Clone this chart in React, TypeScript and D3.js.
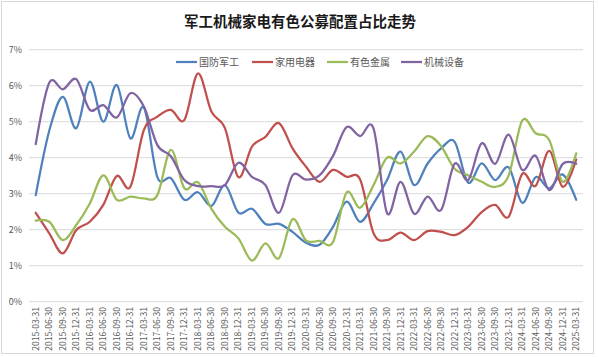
import React from "react";
import * as d3 from "d3";

const dates = [
  "2015-03-31","2015-06-30","2015-09-30","2015-12-31",
  "2016-03-31","2016-06-30","2016-09-30","2016-12-31",
  "2017-03-31","2017-06-30","2017-09-30","2017-12-31",
  "2018-03-31","2018-06-30","2018-09-30","2018-12-31",
  "2019-03-31","2019-06-30","2019-09-30","2019-12-31",
  "2020-03-31","2020-06-30","2020-09-30","2020-12-31",
  "2021-03-31","2021-06-30","2021-09-30","2021-12-31",
  "2022-03-31","2022-06-30","2022-09-30","2022-12-31",
  "2023-03-31","2023-06-30","2023-09-30","2023-12-31",
  "2024-03-31","2024-06-30","2024-09-30","2024-12-31",
  "2025-03-31",
];

const defense = [
  2.96, 4.75, 5.69, 4.82, 6.11, 5.0, 6.02, 4.54, 5.4, 3.46,
  3.43, 2.83, 3.04, 2.66, 3.24, 2.47, 2.58, 2.16, 2.16, 1.94,
  1.64, 1.58, 2.08, 2.78, 2.22, 2.73, 3.38, 4.17, 3.24, 3.84,
  4.26, 4.44, 3.31, 3.84, 3.38, 3.73, 2.75, 3.46, 3.15, 3.53,
  2.83,
];
const appliances = [
  2.47, 1.9, 1.34, 1.99, 2.22, 2.69, 3.49, 3.19, 4.77, 5.14,
  5.33, 5.05, 6.34, 5.28, 4.82, 3.46, 4.31, 4.58, 4.96, 4.26,
  3.75, 3.33, 3.66, 3.47, 3.4, 1.9, 1.71, 1.92, 1.71, 1.96,
  1.94, 1.85, 2.08, 2.49, 2.69, 2.36, 3.55, 3.22, 4.19, 3.19,
  3.95,
];
const metals = [
  2.25, 2.22, 1.71, 2.13, 2.73, 3.51, 2.83, 2.92, 2.87, 2.96,
  4.22, 3.15, 3.32, 2.58, 2.08, 1.76, 1.14, 1.62, 1.21, 2.29,
  1.7, 1.69, 1.66, 3.03, 2.61, 3.24, 4.0, 3.84, 4.17, 4.6,
  4.32, 3.69, 3.51, 3.33, 3.19, 3.51, 5.03, 4.68, 4.49, 3.33,
  4.12,
];
const machinery = [
  4.38, 6.08, 5.9, 6.18, 5.33, 5.46, 5.12, 5.79, 5.42, 4.35,
  4.04, 3.38, 3.21, 3.21, 3.24, 3.86, 3.47, 3.24, 2.47, 3.51,
  3.39, 3.51, 4.05, 4.85, 4.6, 4.81, 2.46, 3.33, 2.44, 2.92,
  2.55, 3.83, 3.38, 4.4, 3.83, 4.64, 3.66, 4.05, 3.1, 3.83,
  3.83,
];

const seriesNames = ["国防军工", "家用电器", "有色金属", "机械设备"];
const seriesColors = ["#4F81BD", "#C0504D", "#9BBB59", "#8064A2"];
const yTicks = [0, 1, 2, 3, 4, 5, 6, 7];
const title = "军工机械家电有色公募配置占比走势";

const W = 598;
const H = 357;
const FONT = '"Noto Sans CJK SC", "Microsoft YaHei", sans-serif';

export default function App() {
  const allSeries = [defense, appliances, metals, machinery];
  const x = d3.scaleBand<string>().domain(dates).range([29, 583]);
  const y = d3.scaleLinear().domain([0, 7]).range([301.7, 49.7]);
  const cx = (d: string) => (x(d) ?? 0) + x.bandwidth() / 2;
  const line = d3
    .line<number>()
    .x((_, i) => cx(dates[i]))
    .y((v) => y(v))
    .curve(d3.curveCatmullRom.alpha(0));

  const legendX = [176, 252, 327, 401];

  return (
    <svg
      width={W}
      height={H}
      style={{ position: "absolute", left: 0, top: 0, background: "#fff" }}
      fontFamily={FONT}
    >
      <rect x={1.5} y={1.5} width={592} height={352} fill="#fff" stroke="#d9d9d9" />
      <text
        x={300}
        y={27}
        textAnchor="middle"
        fontSize={14.5}
        fontWeight="bold"
        fill="#1a1a1a"
      >
        {title}
      </text>
      {yTicks.map((t) => (
        <g key={t}>
          <line
            x1={29}
            x2={583}
            y1={y(t)}
            y2={y(t)}
            stroke="#d9d9d9"
            strokeWidth={1}
          />
          <text
            x={22}
            y={y(t)}
            dy="0.35em"
            textAnchor="end"
            fontSize={9}
            fill="#595959"
          >
            {t + "%"}
          </text>
        </g>
      ))}
      {dates.map((d) => (
        <text
          key={d}
          transform={`translate(${cx(d) + 3},${307}) rotate(-90)`}
          textAnchor="end"
          fontSize={8.5}
          fill="#595959"
        >
          {d}
        </text>
      ))}
      {allSeries.map((s, i) => (
        <path
          key={i}
          d={line(s) ?? ""}
          fill="none"
          stroke={seriesColors[i]}
          strokeWidth={2.25}
          strokeLinejoin="round"
          strokeLinecap="round"
        />
      ))}
      {seriesNames.map((n, i) => (
        <g key={n}>
          <line
            x1={legendX[i]}
            x2={legendX[i] + 21}
            y1={62}
            y2={62}
            stroke={seriesColors[i]}
            strokeWidth={2.25}
          />
          <text
            x={legendX[i] + 23}
            y={62}
            dy="0.35em"
            fontSize={10}
            fill="#595959"
          >
            {n}
          </text>
        </g>
      ))}
    </svg>
  );
}
